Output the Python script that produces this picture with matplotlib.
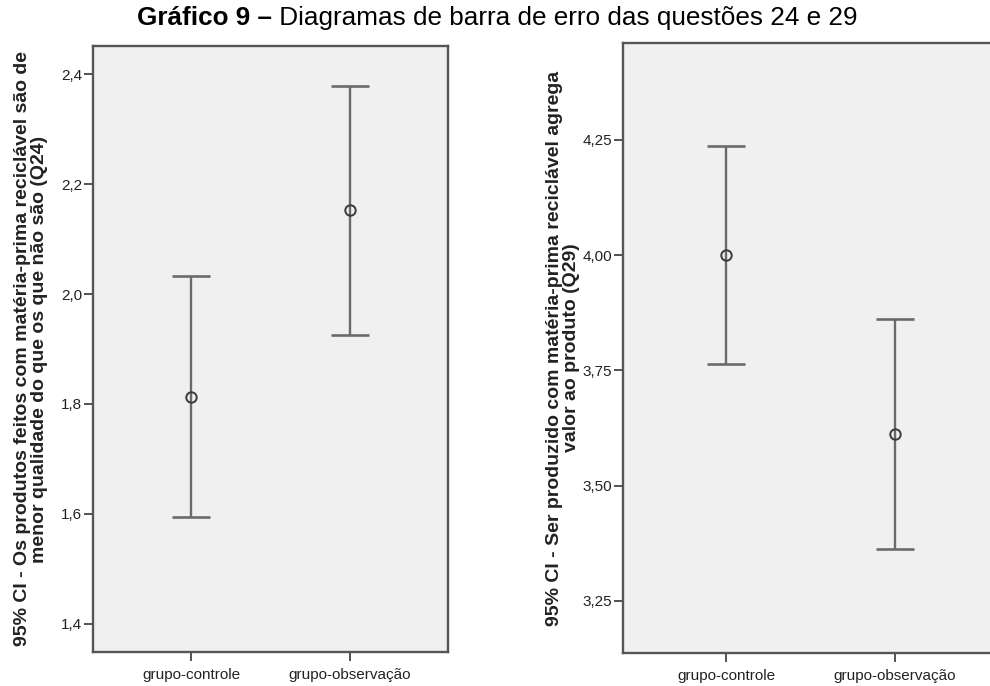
import matplotlib
matplotlib.use("Agg")
import matplotlib.pyplot as plt
from matplotlib.ticker import FuncFormatter, FixedLocator
from matplotlib.offsetbox import TextArea, HPacker, AnchoredOffsetbox

plt.rcParams['font.family'] = ['Liberation Sans', 'DejaVu Sans']

# ---- data ----
categories = ["grupo-controle", "grupo-observação"]
q24_mean = [1.813, 2.152]
q24_low = [1.595, 1.925]
q24_high = [2.033, 2.379]
q29_mean = [4.000, 3.612]
q29_low = [3.764, 3.362]
q29_high = [4.236, 3.862]
q24_ticks = [1.4, 1.6, 1.8, 2.0, 2.2, 2.4]
q29_ticks = [3.25, 3.50, 3.75, 4.00, 4.25]
q24_label = ("95% CI - Os produtos feitos com matéria-prima reciclável são de\n"
             "menor qualidade do que os que não são (Q24)")
q29_label = ("95% CI - Ser produzido com matéria-prima reciclável agrega\n"
             "valor ao produto (Q29)")
title_bold = "Gráfico 9 –"
title_rest = " Diagramas de barra de erro das questões 24 e 29"

W, H = 990, 686
fig = plt.figure(figsize=(W / 100, H / 100), dpi=100)
fig.patch.set_facecolor("white")

def px_axes(x0, y0, x1, y1):
    return fig.add_axes([x0 / W, 1 - y1 / H, (x1 - x0) / W, (y1 - y0) / H])

ax1 = px_axes(93, 46, 448, 652)
ax2 = px_axes(623, 43, 998, 653)

def style(ax, means, lows, highs, ticks, ylim, label, dec):
    ax.set_facecolor("#f0f0f0")
    x = list(range(len(categories)))
    yerr = [[m - l for m, l in zip(means, lows)], [h - m for m, h in zip(means, highs)]]
    ax.errorbar(x, means, yerr=yerr, fmt='none', ecolor="#6a6a6a",
                elinewidth=1.7, capsize=14, capthick=1.9, zorder=2)
    ax.plot(x, means, linestyle='none', marker='o', markersize=7.5,
            markerfacecolor='none', markeredgecolor="#3a3a3a",
            markeredgewidth=1.4, zorder=3)
    ax.set_xlim(-0.616, 1.616)
    ax.set_ylim(*ylim)
    ax.yaxis.set_major_locator(FixedLocator(ticks))
    ax.yaxis.set_major_formatter(FuncFormatter(
        lambda v, p: (f"{v:.{dec}f}").replace(".", ",")))
    ax.set_xticks(x)
    ax.set_xticklabels(categories)
    for sp in ax.spines.values():
        sp.set_color("#555555")
        sp.set_linewidth(1.7)
    ax.tick_params(axis='both', direction='out', length=6.5, width=1.3,
                   color="#444444", labelsize=11, labelcolor="#222222", pad=1.5)
    ax.tick_params(axis='x', pad=5)
    ax.set_ylabel(label, fontsize=14, fontweight='bold', color="#222222",
                  linespacing=1.0)

style(ax1, q24_mean, q24_low, q24_high, q24_ticks, (1.349, 2.451), q24_label, 1)
style(ax2, q29_mean, q29_low, q29_high, q29_ticks, (3.137, 4.46), q29_label, 2)
ax1.yaxis.set_label_coords(-0.127, 0.5)
ax2.yaxis.set_label_coords(-0.115, 0.5)

# title with bold prefix
t1 = TextArea(title_bold, textprops=dict(fontsize=18.8, fontweight='bold', color="black"))
t2 = TextArea(title_rest, textprops=dict(fontsize=18.8, color="black"))
box = HPacker(children=[t1, t2], align="baseline", pad=0, sep=0)
ab = AnchoredOffsetbox(loc='center', child=box, frameon=False,
                       bbox_to_anchor=(497 / W, 1 - 18 / H),
                       bbox_transform=fig.transFigure, borderpad=0)
fig.add_artist(ab)

fig.savefig("out.png", dpi=100)
